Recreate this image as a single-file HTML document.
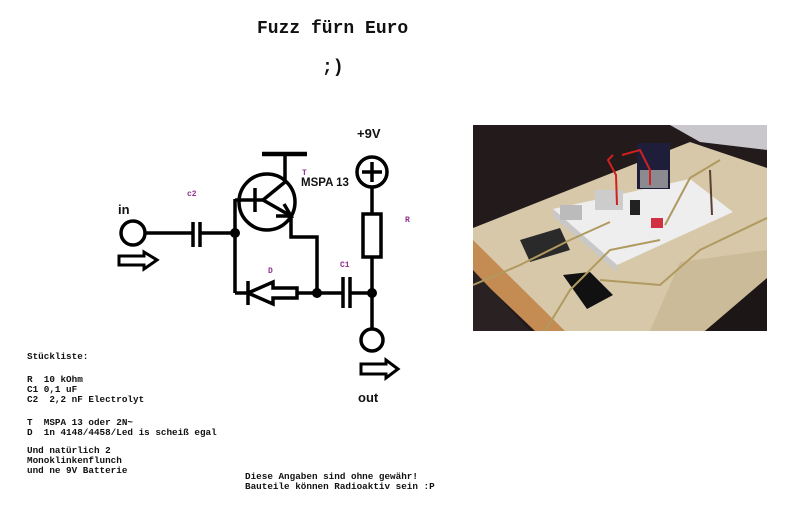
<!DOCTYPE html>
<html><head><meta charset="utf-8"><style>
html,body{margin:0;padding:0;background:#fff;width:789px;height:505px;overflow:hidden}
.m{position:absolute;font-family:"Liberation Mono",monospace;font-weight:bold;color:#111;white-space:pre;font-size:9.3px;line-height:10px}
</style></head><body>
<svg width="789" height="505" style="position:absolute;left:0;top:0" xmlns="http://www.w3.org/2000/svg">
<g font-family="Liberation Mono, monospace" font-weight="bold" fill="#111">
<text x="257" y="33" font-size="18">Fuzz fürn Euro</text>
<text x="322" y="72" font-size="18">;)</text>
</g>
<g stroke="#000" stroke-width="3.5" fill="none">
<circle cx="133" cy="233" r="12"/>
<line x1="145" y1="233" x2="193" y2="233"/>
<line x1="193" y1="222" x2="193" y2="247"/>
<line x1="200" y1="222" x2="200" y2="247"/>
<line x1="200" y1="233" x2="235" y2="233"/>
<line x1="235" y1="199" x2="235" y2="293"/>
<line x1="235" y1="200" x2="263" y2="200"/>
<line x1="255" y1="188" x2="255" y2="212"/>
<circle cx="267" cy="202" r="28"/>
<line x1="263" y1="200" x2="285" y2="182"/>
<line x1="285" y1="182" x2="285" y2="154"/>
<line x1="262" y1="154" x2="307" y2="154" stroke-width="4.5"/>
<line x1="263" y1="200" x2="291" y2="216"/>
<polyline points="276,216 291,216 284,204"/>
<polyline points="291,216 291,237 317,237 317,293"/>
<line x1="235" y1="293" x2="248" y2="293"/>
<line x1="248" y1="281" x2="248" y2="305"/>
<polygon points="248,293 273,282 273,288 297,288 297,298 273,298 273,304"/>
<line x1="297" y1="293" x2="343" y2="293"/>
<line x1="343" y1="277" x2="343" y2="308"/>
<line x1="350" y1="277" x2="350" y2="308"/>
<line x1="350" y1="293" x2="372" y2="293"/>
<circle cx="372" cy="172" r="15"/>
<line x1="362" y1="172" x2="382" y2="172"/>
<line x1="372" y1="162" x2="372" y2="182"/>
<line x1="372" y1="187" x2="372" y2="214"/>
<rect x="363" y="214" width="18" height="43"/>
<line x1="372" y1="257" x2="372" y2="328"/>
<circle cx="372" cy="340" r="11"/>
<polygon points="119,256 144,256 144,252 157,260 144,269 144,265 119,265" stroke-width="3"/>
<polygon points="361,364 386,364 386,360 398,369 386,378 386,374 361,374" stroke-width="3"/>
</g>
<g fill="#000">
<circle cx="235" cy="233" r="5"/><circle cx="317" cy="293" r="5"/><circle cx="372" cy="293" r="5"/>
</g>
<g font-family="Liberation Sans, sans-serif" font-weight="bold" fill="#111">
<text x="118" y="214" font-size="13">in</text>
<text x="357" y="138" font-size="13">+9V</text>
<text x="301" y="186" font-size="11.5">MSPA 13</text>
<text x="358" y="402" font-size="13">out</text>
</g>
<g font-family="Liberation Mono, monospace" font-size="8" fill="#903090" font-weight="bold">
<text x="302" y="175">T</text>
<text x="187" y="196">c2</text>
<text x="405" y="222">R</text>
<text x="268" y="273">D</text>
<text x="340" y="267">C1</text>
</g>
<!-- photo -->
<g>
<rect x="473" y="125" width="294" height="206" fill="#231b1b"/>
<polygon points="670,125 767,125 767,150 700,142" fill="#c9c6cc"/>
<polygon points="473,228 690,142 767,168 767,275 700,331 545,331 473,262" fill="#d7c8aa"/>
<polygon points="680,262 767,250 767,280 705,331 650,331" fill="#cbbb98"/>
<polygon points="473,240 565,331 535,331 473,272" fill="#c48c52"/>
<polygon points="473,270 530,331 473,331" fill="#2a2222"/>
<polygon points="767,278 767,331 705,331" fill="#1c1616"/>
<polygon points="553,209 690,179 733,212 617,265" fill="#eeeeee"/>
<polygon points="553,209 617,265 617,272 553,216" fill="#c8c8c8"/>
<rect x="637" y="143" width="33" height="46" fill="#1e1e3a"/>
<rect x="640" y="170" width="28" height="18" fill="#8a8a90"/>
<polygon points="563,275 590,272 613,295 587,309" fill="#111"/>
<polygon points="520,240 560,228 570,250 530,262" fill="#2a2a2a"/>
<rect x="630" y="200" width="10" height="15" fill="#222"/>
<rect x="651" y="218" width="12" height="10" fill="#d03040"/>
<rect x="595" y="190" width="28" height="20" fill="#ccc"/>
<rect x="560" y="205" width="22" height="15" fill="#bbb"/>
<g fill="none" stroke-width="2">
<polyline points="613,155 608,160 616,175 617,205" stroke="#d02020"/>
<polyline points="622,155 640,150 650,170 650,185" stroke="#d02020"/>
<polyline points="473,285 520,265 570,240 610,222" stroke="#b09a60"/>
<polyline points="545,331 570,290 610,250 660,240" stroke="#b09a60"/>
<polyline points="600,280 660,285 700,250 767,218" stroke="#b09a60"/>
<polyline points="665,225 690,178 720,160" stroke="#b09a60"/>
<polyline points="710,170 712,215" stroke="#5a4030"/>
</g>
</g>
</svg>
<div class="m" style="left:27px;top:352px">Stückliste:</div>
<div class="m" style="left:27px;top:375px">R  10 kOhm
C1 0,1 uF
C2  2,2 nF Electrolyt</div>
<div class="m" style="left:27px;top:418px">T  MSPA 13 oder 2N~
D  1n 4148/4458/Led is scheiß egal</div>
<div class="m" style="left:27px;top:446px">Und natürlich 2
Monoklinkenflunch
und ne 9V Batterie</div>
<div class="m" style="left:245px;top:472px">Diese Angaben sind ohne gewähr!
Bauteile können Radioaktiv sein :P</div>
</body></html>
